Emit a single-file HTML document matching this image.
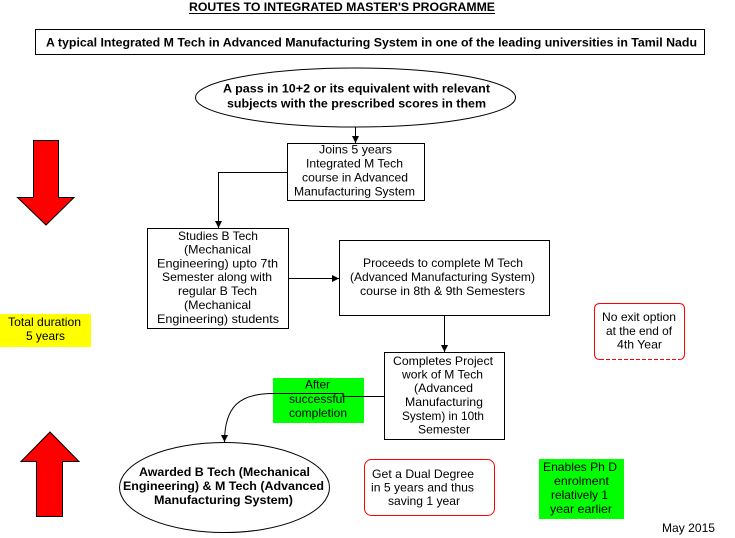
<!DOCTYPE html>
<html><head><meta charset="utf-8"><style>
html,body{margin:0;padding:0;background:#fff;}
svg{display:block;}
text{font-family:"Liberation Sans",Arial,sans-serif;font-size:12px;fill:#000;}
.b{font-weight:bold;}
</style></head><body>
<svg width="735" height="538" viewBox="0 0 735 538" xmlns="http://www.w3.org/2000/svg">
<defs>
<marker id="ah" markerWidth="8" markerHeight="8" refX="7" refY="4" orient="auto" markerUnits="userSpaceOnUse">
<path d="M0,0.5 L7,4 L0,7.5 Z" fill="#000"/>
</marker>
</defs>

<!-- Title -->
<text class="b" x="189" y="11" font-size="11" textLength="306" lengthAdjust="spacingAndGlyphs">ROUTES TO INTEGRATED MASTER'S PROGRAMME</text>
<line x1="189" y1="13.5" x2="495" y2="13.5" stroke="#000" stroke-width="1"/>

<!-- Top box -->
<rect x="35.5" y="29.5" width="669" height="25" fill="#fff" stroke="#000"/>
<text class="b" x="46" y="46.5" textLength="651" lengthAdjust="spacingAndGlyphs">A typical Integrated M Tech in Advanced Manufacturing System in one of the leading universities in Tamil Nadu</text>

<!-- Top ellipse -->
<ellipse cx="355.5" cy="97.5" rx="160" ry="29.5" fill="#fff" stroke="#000"/>
<text class="b" x="223" y="92.5" textLength="267" lengthAdjust="spacingAndGlyphs">A pass in 10+2 or its equivalent with relevant</text>
<text class="b" x="227" y="107.5" textLength="259" lengthAdjust="spacingAndGlyphs">subjects with the prescribed scores in them</text>

<!-- connector ellipse -> joins -->
<line x1="355.5" y1="127" x2="355.5" y2="143" stroke="#000" marker-end="url(#ah)"/>

<!-- Joins box -->
<rect x="287.5" y="143.5" width="137" height="57" fill="#fff" stroke="#000"/>
<text x="319" y="153.5" textLength="73" lengthAdjust="spacingAndGlyphs">Joins 5 years</text>
<text x="306" y="167.5" textLength="97" lengthAdjust="spacingAndGlyphs">Integrated M Tech</text>
<text x="302" y="181.5" textLength="106" lengthAdjust="spacingAndGlyphs">course in Advanced</text>
<text x="294" y="195.5" textLength="121" lengthAdjust="spacingAndGlyphs">Manufacturing System</text>

<!-- connector joins -> studies -->
<polyline points="287,172.5 218.5,172.5 218.5,228" fill="none" stroke="#000" marker-end="url(#ah)"/>

<!-- Studies box -->
<rect x="147.5" y="228.5" width="141" height="100" fill="#fff" stroke="#000"/>
<text x="178" y="240" textLength="80" lengthAdjust="spacingAndGlyphs">Studies B Tech</text>
<text x="184" y="253.5" textLength="67" lengthAdjust="spacingAndGlyphs">(Mechanical</text>
<text x="157" y="267.5" textLength="121" lengthAdjust="spacingAndGlyphs">Engineering)  upto 7th</text>
<text x="162" y="281" textLength="110" lengthAdjust="spacingAndGlyphs">Semester along with</text>
<text x="178" y="295" textLength="79" lengthAdjust="spacingAndGlyphs">regular B Tech</text>
<text x="184" y="309" textLength="67" lengthAdjust="spacingAndGlyphs">(Mechanical</text>
<text x="157" y="323" textLength="122" lengthAdjust="spacingAndGlyphs">Engineering)  students</text>

<!-- connector studies -> proceeds -->
<line x1="288" y1="278.5" x2="339" y2="278.5" stroke="#000" marker-end="url(#ah)"/>

<!-- Proceeds box -->
<rect x="339.5" y="240.5" width="210" height="75" fill="#fff" stroke="#000"/>
<text x="363" y="267" textLength="160" lengthAdjust="spacingAndGlyphs">Proceeds to complete M Tech</text>
<text x="350" y="281" textLength="185" lengthAdjust="spacingAndGlyphs">(Advanced Manufacturing System)</text>
<text x="360" y="295" textLength="165" lengthAdjust="spacingAndGlyphs">course in  8th &amp; 9th Semesters</text>

<!-- connector proceeds -> completes -->
<line x1="444.5" y1="316" x2="444.5" y2="352" stroke="#000" marker-end="url(#ah)"/>

<!-- Completes box -->
<rect x="384.5" y="352.5" width="120" height="87" fill="#fff" stroke="#000"/>
<text x="393" y="365" textLength="100" lengthAdjust="spacingAndGlyphs">Completes Project</text>
<text x="402" y="378.5" textLength="81" lengthAdjust="spacingAndGlyphs">work of M Tech</text>
<text x="414" y="392" textLength="59" lengthAdjust="spacingAndGlyphs">(Advanced</text>
<text x="405" y="406" textLength="78" lengthAdjust="spacingAndGlyphs">Manufacturing</text>
<text x="402" y="420" textLength="82" lengthAdjust="spacingAndGlyphs">System) in 10th</text>
<text x="418" y="433.5" textLength="52" lengthAdjust="spacingAndGlyphs">Semester</text>

<!-- Green label After successful completion -->
<rect x="273" y="378" width="91" height="45" fill="#00ff00"/>
<text x="305" y="388.5" textLength="25" lengthAdjust="spacingAndGlyphs">After</text>
<text x="289" y="403" textLength="56" lengthAdjust="spacingAndGlyphs">successful</text>
<text x="289" y="417" textLength="58" lengthAdjust="spacingAndGlyphs">completion</text>

<!-- curved connector completes -> awarded -->
<path d="M384,396.5 L343,396.5 L343,393.5 L273,393.5 C240,393.5 224.5,406 224.5,442" fill="none" stroke="#000" marker-end="url(#ah)"/>

<!-- Awarded ellipse -->
<ellipse cx="224.5" cy="487.5" rx="105" ry="45" fill="#fff" stroke="#000"/>
<text class="b" x="139" y="476" textLength="171" lengthAdjust="spacingAndGlyphs">Awarded B Tech (Mechanical</text>
<text class="b" x="123" y="490" textLength="201" lengthAdjust="spacingAndGlyphs">Engineering) &amp; M Tech (Advanced</text>
<text class="b" x="154" y="504" textLength="139" lengthAdjust="spacingAndGlyphs">Manufacturing System)</text>

<!-- Dual degree red rounded box -->
<rect x="364.5" y="459.5" width="130" height="56" rx="7" ry="7" fill="#fff" stroke="#ff0000"/>
<text x="372" y="478" textLength="102" lengthAdjust="spacingAndGlyphs">Get a Dual Degree</text>
<text x="371" y="491.5" textLength="103" lengthAdjust="spacingAndGlyphs">in 5 years and thus</text>
<text x="388" y="505" textLength="72" lengthAdjust="spacingAndGlyphs">saving 1 year</text>

<!-- No exit option box -->
<path d="M600,359.5 Q594.5,359.5 594.5,354 L594.5,309 Q594.5,303.5 600,303.5 L679,303.5 Q684.5,303.5 684.5,309 L684.5,354 Q684.5,359.5 679,359.5" fill="none" stroke="#ff0000"/>
<line x1="600" y1="359.5" x2="679" y2="359.5" stroke="#ff0000" stroke-dasharray="4,2"/>
<text x="602" y="321" textLength="74" lengthAdjust="spacingAndGlyphs">No exit option</text>
<text x="606" y="335" textLength="66" lengthAdjust="spacingAndGlyphs">at the end of</text>
<text x="617" y="348.5" textLength="45" lengthAdjust="spacingAndGlyphs">4th Year</text>

<!-- Enables Ph D green box -->
<rect x="539" y="459" width="85" height="60" fill="#00ff00"/>
<text x="543" y="471" textLength="74" lengthAdjust="spacingAndGlyphs">Enables Ph D</text>
<text x="554" y="485" textLength="55" lengthAdjust="spacingAndGlyphs">enrolment</text>
<text x="551" y="499" textLength="57" lengthAdjust="spacingAndGlyphs">relatively 1</text>
<text x="550" y="513" textLength="62" lengthAdjust="spacingAndGlyphs">year earlier</text>

<!-- May 2015 -->
<text x="662" y="532" textLength="53" lengthAdjust="spacingAndGlyphs">May 2015</text>

<!-- Yellow total duration -->
<rect x="0" y="314" width="91" height="33" fill="#ffff00"/>
<text x="8" y="326" textLength="73" lengthAdjust="spacingAndGlyphs">Total duration</text>
<text x="26" y="340" textLength="39" lengthAdjust="spacingAndGlyphs">5 years</text>

<!-- Big red down arrow -->
<path d="M33.5,140.5 L58.5,140.5 L58.5,197.5 L74,197.5 L46,225 L17.5,197.5 L33.5,197.5 Z" fill="#ff0000" stroke="#000"/>
<!-- Big red up arrow -->
<path d="M50,432 L79,461.5 L62.5,461.5 L62.5,516.5 L36.5,516.5 L36.5,461.5 L21,461.5 Z" fill="#ff0000" stroke="#000"/>
</svg>
</body></html>
